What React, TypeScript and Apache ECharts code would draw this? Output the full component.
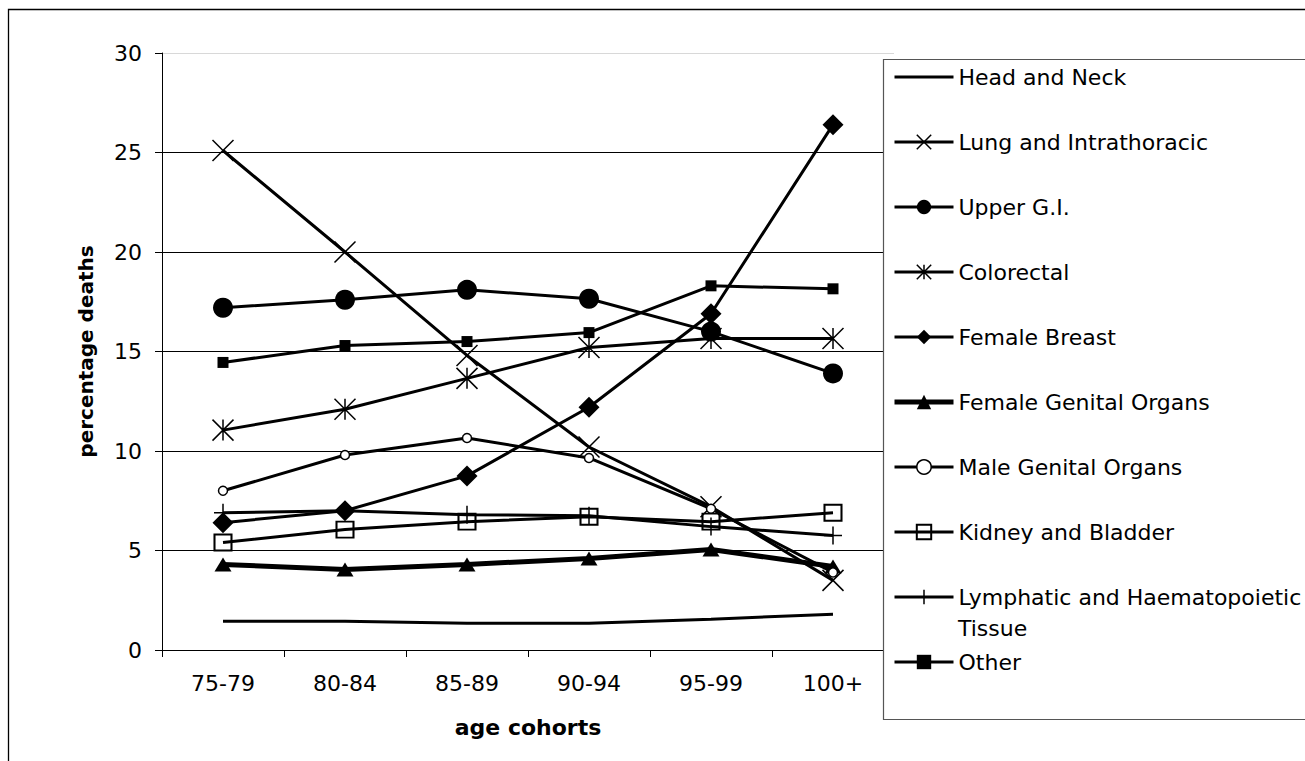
import React, { useEffect, useRef } from 'react';
import * as echarts from 'echarts';

const categories = ['75-79', '80-84', '85-89', '90-94', '95-99', '100+'];

const headNeck = [1.45, 1.45, 1.35, 1.35, 1.55, 1.8];
const lung = [25.1, 20.0, 14.8, 10.2, 7.2, 3.5];
const upperGI = [17.2, 17.6, 18.1, 17.65, 16.0, 13.9];
const colorectal = [11.05, 12.1, 13.65, 15.2, 15.65, 15.65];
const femaleBreast = [6.4, 7.0, 8.75, 12.2, 16.9, 26.4];
const femaleGenital = [4.3, 4.05, 4.3, 4.6, 5.05, 4.2];
const maleGenital = [8.0, 9.8, 10.65, 9.65, 7.1, 3.9];
const kidneyBladder = [5.4, 6.05, 6.45, 6.7, 6.45, 6.9];
const lymphatic = [6.9, 7.0, 6.8, 6.75, 6.2, 5.75];
const other = [14.45, 15.3, 15.5, 15.95, 18.3, 18.15];

const yMin = 0;
const yMax = 30;
const yStep = 5;

const FONT = '"DejaVu Sans", sans-serif';
const X_PATH = 'path://M0,0L10,10M10,0L0,10';
const ASTERISK_PATH = 'path://M0,0L10,10M10,0L0,10M5,0L5,10';
const PLUS_PATH = 'path://M5,0L5,10M0,5L10,5';
const LINE_ICON = 'path://M0,0L59,0L59,3L0,3Z';

const LYMPH = 'Lymphatic and Haematopoietic Tissue';

function mk(name: string, data: number[], symbol: string, size: any, itemStyle: any, width = 3) {
  return {
    name,
    type: 'line',
    data,
    symbol,
    symbolSize: size,
    showSymbol: symbol !== 'none',
    lineStyle: { color: '#000', width },
    itemStyle,
    emphasis: { disabled: true },
    z: 2,
  };
}

const strokeOnly = { color: 'rgba(0,0,0,0)', borderColor: '#000', borderWidth: 1.5 };
const filled = { color: '#000', borderColor: '#000', borderWidth: 0 };

export default function App() {
  const ref = useRef<HTMLDivElement>(null);
  useEffect(() => {
    if (!ref.current) return;
    const chart = echarts.init(ref.current, undefined, { renderer: 'svg' });
    const series = [
      mk('Head and Neck', headNeck, 'none', 0, filled, 3),
      mk('Lung and Intrathoracic', lung, X_PATH, 21, strokeOnly),
      mk('Upper G.I.', upperGI, 'circle', 20, filled),
      mk('Colorectal', colorectal, ASTERISK_PATH, 21, strokeOnly),
      mk('Female Breast', femaleBreast, 'diamond', 21, filled),
      mk('Female Genital Organs', femaleGenital, 'triangle', [17, 14], filled, 5),
      mk('Male Genital Organs', maleGenital, 'circle', 9, { color: '#fff', borderColor: '#000', borderWidth: 1.5 }),
      mk('Kidney and Bladder', kidneyBladder, 'rect', [17, 16], { color: 'rgba(0,0,0,0)', borderColor: '#000', borderWidth: 2 }),
      mk(LYMPH, lymphatic, PLUS_PATH, 18, strokeOnly),
      mk('Other', other, 'rect', 11, filled),
    ];
    const legendData = series.map((s) =>
      s.name === 'Head and Neck'
        ? { name: s.name, icon: LINE_ICON, itemStyle: { color: '#000', borderWidth: 0 } }
        : { name: s.name }
    );
    chart.setOption({
      animation: false,
      backgroundColor: '#fff',
      textStyle: { fontFamily: FONT },
      grid: { left: 162, right: 411, top: 53, bottom: 111, containLabel: false },
      xAxis: {
        type: 'category',
        data: categories,
        boundaryGap: true,
        axisLine: { lineStyle: { color: '#000', width: 1 } },
        axisTick: { show: true, length: 7, inside: false, lineStyle: { color: '#000' } },
        axisLabel: { color: '#000', fontSize: 22, fontFamily: FONT, margin: 22 },
        splitLine: { show: false },
        name: 'age cohorts',
        nameLocation: 'middle',
        nameGap: 66,
        nameTextStyle: { color: '#000', fontSize: 22, fontWeight: 'bold', fontFamily: FONT },
      },
      yAxis: {
        type: 'value',
        min: yMin,
        max: yMax,
        interval: yStep,
        axisLine: { show: true, lineStyle: { color: '#000', width: 1 } },
        axisTick: { show: true, length: 7, inside: false, lineStyle: { color: '#000' } },
        axisLabel: { color: '#000', fontSize: 22, fontFamily: FONT, margin: 20 },
        splitLine: {
          show: true,
          lineStyle: { color: ['#000', '#000', '#000', '#000', '#000', '#000', '#d8d8d8'], width: 1 },
        },
        name: 'percentage deaths',
        nameLocation: 'middle',
        nameGap: 66,
        nameTextStyle: { color: '#000', fontSize: 20, fontWeight: 'bold', fontFamily: FONT },
      },
      legend: {
        orient: 'vertical',
        left: 892,
        top: 66,
        padding: 0,
        itemWidth: 59,
        itemHeight: 18,
        itemGap: 43,
        z: 4,
        selectedMode: false,
        lineStyle: { width: 'inherit' },
        itemStyle: { borderWidth: 'inherit' },
        textStyle: { color: '#000', fontSize: 22, fontFamily: FONT },
        formatter: (name: string) => (name === LYMPH ? 'Lymphatic and Haematopoietic' : name),
        data: legendData,
      },
      graphic: [
        {
          type: 'rect',
          z: 0,
          silent: true,
          shape: { x: 8.5, y: 9.5, width: 1320, height: 780 },
          style: { fill: 'none', stroke: '#000', lineWidth: 1.3 },
        },
        {
          type: 'rect',
          z: 3,
          silent: true,
          shape: { x: 883.5, y: 59.5, width: 440, height: 660 },
          style: { fill: '#fff', stroke: '#555', lineWidth: 1.2 },
        },
        {
          type: 'text',
          z: 5,
          silent: true,
          style: { text: 'Tissue', x: 958, y: 628, font: '22px "DejaVu Sans", sans-serif', fill: '#000', verticalAlign: 'middle' },
        },
      ],
      series,
    });
    return () => chart.dispose();
  }, []);
  return <div ref={ref} style={{ position: 'fixed', left: 0, top: 0, width: 1305, height: 761 }} />;
}
